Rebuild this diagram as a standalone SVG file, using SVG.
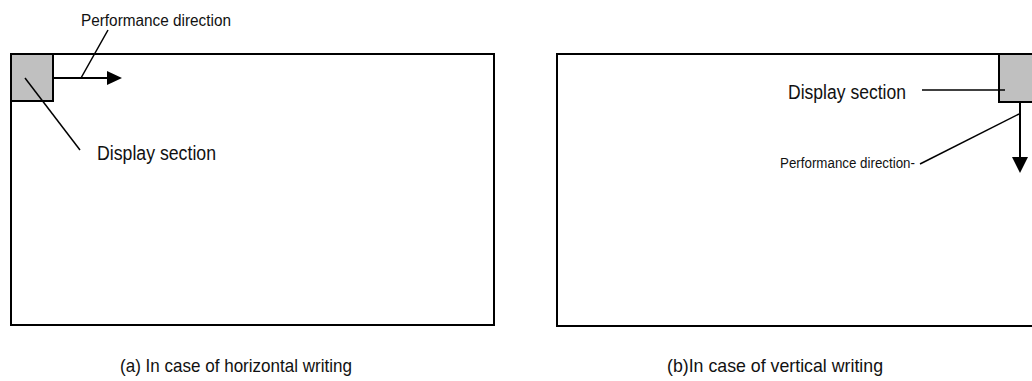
<svg xmlns="http://www.w3.org/2000/svg" width="1032" height="381" viewBox="0 0 1032 381">
<style>
.frame{fill:none;stroke:#000;stroke-width:2}
.box{fill:#c0c0c0;stroke:#000;stroke-width:2}
.lead{fill:none;stroke:#000;stroke-width:1.5}
.arr{fill:none;stroke:#000;stroke-width:2}
.head{fill:#000;stroke:none}
text{font-family:"Liberation Sans",Arial,sans-serif;fill:#111}
</style>
<rect width="1032" height="381" fill="#fff"/>
<g id="frame-a"><rect class="frame" x="11" y="54" width="483" height="271"/></g>
<g id="display-a"><rect class="box" x="11" y="54" width="42" height="47"/></g>
<g id="frame-b"><rect class="frame" x="557" y="54" width="490" height="272"/></g>
<g id="display-b"><rect class="box" x="999" y="54" width="50" height="48"/></g>
<g id="connectors">
<line class="arr" x1="53" y1="78" x2="110" y2="78"/>
<polygon class="head" points="107,71 107,85 122,78"/>
<line class="lead" x1="81" y1="78" x2="108" y2="30"/>
<line class="lead" x1="25" y1="78" x2="80" y2="150"/>
<line class="arr" x1="1020" y1="102" x2="1020" y2="160"/>
<polygon class="head" points="1012,157 1028,157 1020,173"/>
<line class="lead" x1="922" y1="90" x2="1005" y2="90"/>
<line class="lead" x1="920" y1="164" x2="1019" y2="114"/>
</g>
<g id="labels">
<text x="81" y="26" font-size="16" textLength="150" lengthAdjust="spacingAndGlyphs">Performance direction</text>
<text x="97" y="160" font-size="20" textLength="119" lengthAdjust="spacingAndGlyphs">Display section</text>
<text x="788" y="99" font-size="20" textLength="118" lengthAdjust="spacingAndGlyphs">Display section</text>
<text x="780" y="168" font-size="14" textLength="135" lengthAdjust="spacingAndGlyphs">Performance direction-</text>
<text x="120" y="372" font-size="19" textLength="232" lengthAdjust="spacingAndGlyphs">(a) In case of horizontal writing</text>
<text x="667" y="372" font-size="19" textLength="216" lengthAdjust="spacingAndGlyphs">(b)In case of vertical writing</text>
</g>
</svg>
